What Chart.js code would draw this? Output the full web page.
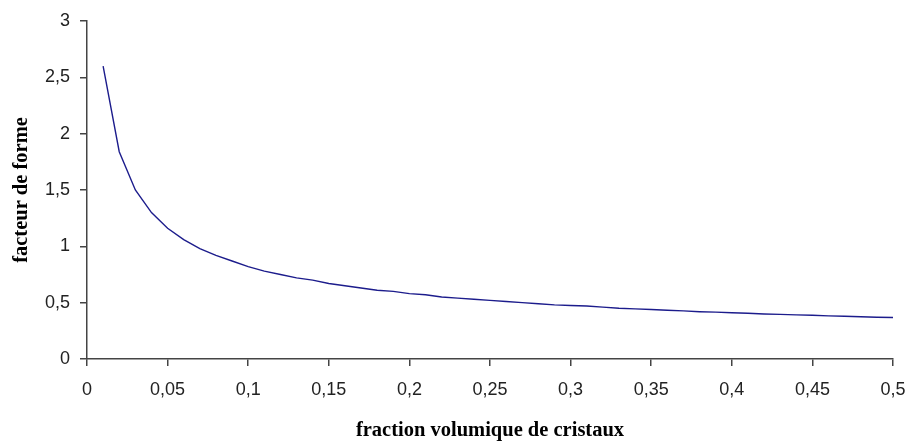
<!DOCTYPE html>
<html>
<head>
<meta charset="utf-8">
<script src="https://cdn.jsdelivr.net/npm/chart.js@4/dist/chart.umd.min.js"></script>
<style>
  html, body { margin: 0; padding: 0; background: #fff; }
  #wrap { width: 909px; height: 441px; position: relative; }
</style>
</head>
<body>
<div id="wrap"><canvas id="c" width="909" height="441"></canvas></div>
<script>
// fraction volumique de cristaux
const xValues = [0.01,0.02,0.03,0.04,0.05,0.06,0.07,0.08,0.09,0.10,
                 0.11,0.12,0.13,0.14,0.15,0.16,0.17,0.18,0.19,0.20,
                 0.21,0.22,0.23,0.24,0.25,0.26,0.27,0.28,0.29,0.30,
                 0.31,0.32,0.33,0.34,0.35,0.36,0.37,0.38,0.39,0.40,
                 0.41,0.42,0.43,0.44,0.45,0.46,0.47,0.48,0.49,0.50];
// facteur de forme
const yValues = [2.60,1.84,1.50,1.30,1.16,1.06,0.98,0.92,0.87,0.82,
                 0.78,0.75,0.72,0.70,0.67,0.65,0.63,0.61,0.60,0.58,
                 0.57,0.55,0.54,0.53,0.52,0.51,0.50,0.49,0.48,0.475,
                 0.47,0.46,0.45,0.445,0.44,0.433,0.427,0.42,0.416,0.41,
                 0.406,0.40,0.396,0.392,0.388,0.383,0.379,0.375,0.371,0.368];
const xTitle = 'fraction volumique de cristaux';
const yTitle = 'facteur de forme';

const points = xValues.map((x, i) => ({ x: x, y: yValues[i] }));
const fmt = v => String(Number(v.toFixed(2))).replace('.', ',');
const tickFont = { family: '"Liberation Sans", Arial, sans-serif', size: 18 };
const titleFont = { family: '"Liberation Serif", "Times New Roman", serif', size: 20.5, weight: 'bold' };

new Chart(document.getElementById('c'), {
  type: 'line',
  data: {
    datasets: [{
      data: points,
      borderColor: '#1c1c8c',
      borderWidth: 1.4,
      pointRadius: 0,
      fill: false,
      tension: 0
    }]
  },
  options: {
    responsive: false,
    animation: false,
    devicePixelRatio: 1,
    layout: { padding: { left: 0, right: 16, top: 21, bottom: 0 } },
    plugins: { legend: { display: false }, tooltip: { enabled: false } },
    scales: {
      x: {
        type: 'linear',
        min: 0, max: 0.5,
        afterFit: s => { s.height = 82; s.paddingLeft = 0; s.paddingRight = 0; },
        ticks: { stepSize: 0.05, callback: v => fmt(v), font: tickFont, color: '#222', padding: 13, maxRotation: 0, autoSkip: false },
        grid: { drawOnChartArea: false, drawTicks: true, tickLength: 7, color: '#444', lineWidth: 1.5 },
        border: { display: true, color: '#444', width: 1.5 },
        title: { display: true, text: xTitle, font: titleFont, color: '#000', padding: { top: 0, bottom: -2 } }
      },
      y: {
        min: 0, max: 3,
        afterFit: s => { s.width = 87; s.paddingTop = 0; s.paddingBottom = 0; },
        ticks: { stepSize: 0.5, callback: v => fmt(v), font: tickFont, color: '#222', padding: 10 },
        grid: { drawOnChartArea: false, drawTicks: true, tickLength: 7, color: '#444', lineWidth: 1.5 },
        border: { display: true, color: '#444', width: 1.5 },
        title: { display: true, text: yTitle, font: titleFont, color: '#000', padding: { top: 9, bottom: 0 } }
      }
    }
  }
});
</script>
</body>
</html>
